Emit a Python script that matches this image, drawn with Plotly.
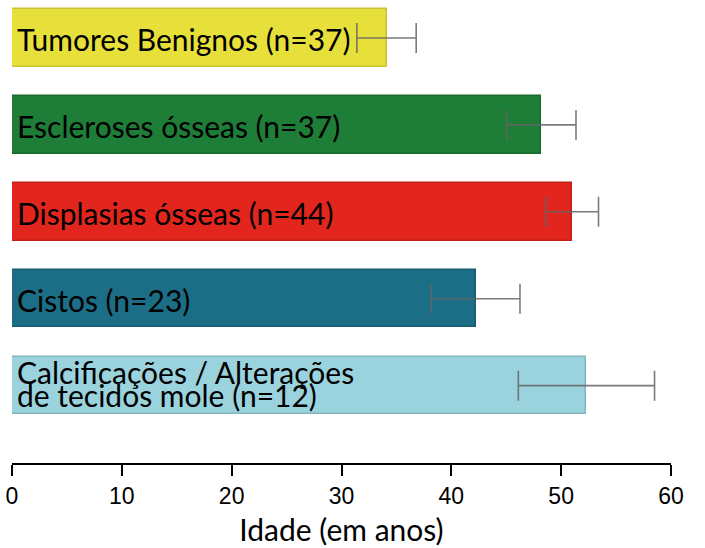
import plotly.graph_objects as go

# Mean age per lesion group (years) with standard deviation
categories = [
    "Tumores Benignos (n=37)",
    "Escleroses ósseas (n=37)",
    "Displasias ósseas (n=44)",
    "Cistos (n=23)",
    "Calcificações / Alterações<br>de tecidos mole (n=12)",
]
mean_age = [34.1, 48.2, 51.0, 42.2, 52.3]
sd_age = [2.7, 3.15, 2.4, 4.05, 6.2]
bar_colors = ["#E8E03A", "#1E7D36", "#E2261E", "#1B6E86", "#9AD3DE"]
edge_colors = ["#C9C232", "#196A2E", "#C2201A", "#165D72", "#84B6C0"]
x_ticks = [0, 10, 20, 30, 40, 50, 60]

positions = list(range(len(categories)))
label_font = "Lato, 'Gill Sans', 'Open Sans', sans-serif"

fig = go.Figure(
    go.Bar(
        x=mean_age,
        y=positions,
        orientation="h",
        width=0.66,
        marker=dict(color=bar_colors, line=dict(color=edge_colors, width=1.5)),
        error_x=dict(
            type="data",
            array=sd_age,
            symmetric=True,
            color="rgba(100,100,100,0.85)",
            thickness=1.6,
            width=15,
        ),
        hoverinfo="skip",
    )
)

# Group labels written inside the bars
for pos, name in zip(positions, categories):
    lines = name.split("<br>")
    if len(lines) == 1:
        fig.add_annotation(
            x=0, y=pos, xref="x", yref="y", text=lines[0], showarrow=False,
            xanchor="left", yanchor="middle", xshift=3, yshift=-1,
            font=dict(family=label_font, size=30, color="black"),
        )
    else:
        for k, line in enumerate(lines):
            fig.add_annotation(
                x=0, y=pos, xref="x", yref="y", text=line, showarrow=False,
                xanchor="left", yanchor="middle", xshift=3,
                yshift=14 - 23 * k,
                font=dict(family=label_font, size=30, color="black"),
            )

fig.update_layout(
    width=705,
    height=548,
    margin=dict(l=12, r=34, t=0, b=85),
    plot_bgcolor="white",
    paper_bgcolor="white",
    showlegend=False,
    bargap=0,
    xaxis=dict(
        range=[0, 60],
        tickvals=x_ticks,
        ticktext=[str(v) for v in x_ticks],
        showline=True,
        linecolor="black",
        linewidth=2.2,
        ticks="outside",
        ticklen=11,
        tickwidth=2.2,
        tickcolor="black",
        showgrid=False,
        zeroline=False,
        tickfont=dict(family="'Liberation Sans Narrow', 'Liberation Sans', Arial, sans-serif",
                      size=23, color="black"),
        title=dict(text="Idade (em anos)", standoff=12,
                   font=dict(family=label_font, size=30, color="black")),
        automargin=False,
    ),
    yaxis=dict(
        range=[4.89, -0.437],
        visible=False,
        showgrid=False,
        zeroline=False,
    ),
)

fig.write_html("out.html")
